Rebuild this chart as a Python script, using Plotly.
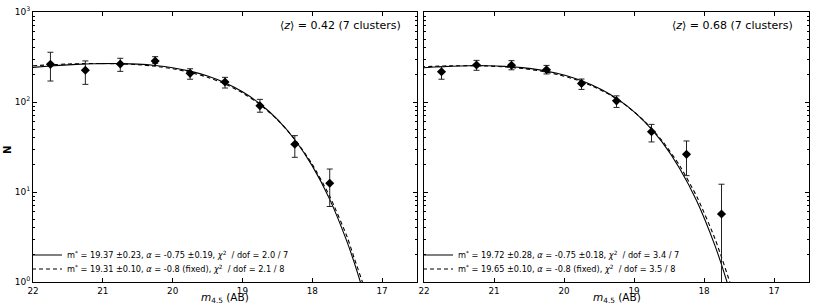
import plotly.graph_objects as go

# ---------------- data ----------------
mag = [21.75, 21.25, 20.75, 20.25, 19.75, 19.25, 18.75, 18.25, 17.75]

n_z042 = [262, 225, 264, 285, 208, 167, 91, 33.9, 12.5]
up_z042 = [357, 286, 306, 319, 234, 188, 107, 42.3, 18.0]
lo_z042 = [171, 157, 219, 269, 179, 143, 77, 24.3, 6.9]

n_z068 = [217, 258, 256, 228, 161, 103, 46.8, 26.2, 5.7]
up_z068 = [247, 290, 288, 255, 180, 117, 56.4, 36.9, 12.2]
lo_z068 = [179, 225, 228, 205, 138, 87, 36.0, 15.2, 0.5]

# fitted Schechter curves
fit_mag_z042 = [22.0, 21.75, 21.5, 21.25, 21.0, 20.75, 20.5, 20.25, 20.0, 19.75, 19.5,
                19.25, 19.0, 18.75, 18.5, 18.25, 18.0, 17.75, 17.5, 17.4, 17.25, 17.0]
fit_free_z042 = [242.8, 251.2, 258.6, 264.1, 267.2, 267.2, 263.2, 254.4, 240.2, 220.1, 194.3,
                 163.5, 129.7, 95.5, 64.0, 38.1, 19.5, 8.28, 2.77, 1.65, 0.69, 0.118]
fit_fixed_z042 = [253.0, 259.2, 264.1, 267.2, 267.9, 265.6, 259.7, 249.4, 234.2, 213.7, 188.3,
                  158.7, 126.4, 93.8, 63.7, 38.6, 20.3, 8.96, 3.16, 1.85, 0.84, 0.156]

fit_mag_free_z068 = [22.10, 21.85, 21.60, 21.35, 21.10, 20.85, 20.60, 20.35, 20.10, 19.85, 19.60,
                     19.35, 19.10, 18.85, 18.60, 18.35, 18.10, 17.85, 17.75, 17.60, 17.35]
fit_free_z068 = [237.8, 244.7, 250.0, 252.9, 252.9, 249.1, 240.8, 227.3, 208.3, 183.9, 154.8,
                 122.8, 90.4, 60.5, 36.0, 18.4, 7.83, 2.62, 1.56, 0.65, 0.11]
fit_mag_fixed_z068 = [22.34, 22.09, 21.84, 21.59, 21.34, 21.09, 20.84, 20.59, 20.34, 20.09, 19.84,
                      19.59, 19.34, 19.09, 18.84, 18.59, 18.34, 18.09, 17.84, 17.59, 17.34]
fit_fixed_z068 = [239.2, 245.1, 249.7, 252.7, 253.3, 251.2, 245.5, 235.8, 221.4, 202.1, 178.1,
                  150.0, 119.6, 88.7, 60.2, 36.5, 19.2, 8.48, 2.98, 0.79, 0.15]

labels_z042 = [
    "m<sup>*</sup> = 19.37 ±0.23, <i>α</i> = -0.75 ±0.19, <i>χ</i><sup>2</sup>  / dof = 2.0 / 7",
    "m<sup>*</sup> = 19.31 ±0.10, <i>α</i> = -0.8 (fixed), <i>χ</i><sup>2</sup>  / dof = 2.1 / 8",
]
labels_z068 = [
    "m<sup>*</sup> = 19.72 ±0.28, <i>α</i> = -0.75 ±0.18, <i>χ</i><sup>2</sup>  / dof = 3.4 / 7",
    "m<sup>*</sup> = 19.65 ±0.10, <i>α</i> = -0.8 (fixed), <i>χ</i><sup>2</sup>  / dof = 3.5 / 8",
]
titles = ["⟨<i>z</i>⟩ = 0.42 (7 clusters)", "⟨<i>z</i>⟩ = 0.68 (7 clusters)"]
x_title = "<i>m</i><sub>4.5</sub> (AB)"
x_ticks = [22, 21, 20, 19, 18, 17]
y_tickvals = [1, 10, 100, 1000]
y_ticktext = ["10<sup>0</sup>", "10<sup>1</sup>", "10<sup>2</sup>", "10<sup>3</sup>"]
y_minor = [2, 3, 4, 5, 6, 7, 8, 9, 20, 30, 40, 50, 60, 70, 80, 90,
           200, 300, 400, 500, 600, 700, 800, 900]

# ---------------- figure ----------------
W, H = 817, 307
FONT = "DejaVu Sans"
fig = go.Figure()

panels = [
    dict(xa="x", ya="y", n=n_z042, up=up_z042, lo=lo_z042,
         fm1=fit_mag_z042, f1=fit_free_z042, fm2=fit_mag_z042, f2=fit_fixed_z042,
         labels=labels_z042, legs=("legend", "legend2")),
    dict(xa="x2", ya="y2", n=n_z068, up=up_z068, lo=lo_z068,
         fm1=fit_mag_free_z068, f1=fit_free_z068, fm2=fit_mag_fixed_z068, f2=fit_fixed_z068,
         labels=labels_z068, legs=("legend3", "legend4")),
]

for p in panels:
    fig.add_trace(go.Scatter(
        x=p["fm1"], y=p["f1"], xaxis=p["xa"], yaxis=p["ya"], mode="lines",
        line=dict(color="black", width=1.1, shape="spline", smoothing=0.6),
        name=p["labels"][0], legend=p["legs"][0], showlegend=True))
    fig.add_trace(go.Scatter(
        x=p["fm2"], y=p["f2"], xaxis=p["xa"], yaxis=p["ya"], mode="lines",
        line=dict(color="black", width=1.1, dash="4px,3px", shape="spline", smoothing=0.6),
        name=p["labels"][1], legend=p["legs"][1], showlegend=True))
    plus = [u - v for u, v in zip(p["up"], p["n"])]
    minus = [v - l for v, l in zip(p["n"], p["lo"])]
    fig.add_trace(go.Scatter(
        x=mag, y=p["n"], xaxis=p["xa"], yaxis=p["ya"], mode="markers",
        marker=dict(symbol="diamond", size=7, color="black"),
        error_y=dict(type="data", symmetric=False, array=plus, arrayminus=minus,
                     color="#222222", thickness=1, width=3),
        showlegend=False))

dom_x1 = [33 / W, 417 / W]
dom_x2 = [424 / W, 809 / W]
dom_y = [25 / H, 295 / H]

xcommon = dict(range=[22, 16.5], tickmode="array", tickvals=x_ticks, ticktext=[str(t) for t in x_ticks],
               ticks="inside", ticklen=4, tickcolor="black", showline=True, linecolor="black",
               linewidth=1, mirror="allticks", showgrid=False, zeroline=False, automargin=False,
               tickfont=dict(family=FONT, size=8.8, color="black"))
ycommon = dict(type="log", range=[0, 3], tickmode="array", tickvals=y_tickvals, ticktext=y_ticktext,
               ticks="inside", ticklen=4, tickcolor="black", showline=True, linecolor="black",
               linewidth=1, mirror="allticks", showgrid=False, zeroline=False, automargin=False,
               minor=dict(tickmode="array", tickvals=y_minor, ticks="inside", ticklen=2,
                          tickcolor="black", showgrid=False),
               tickfont=dict(family=FONT, size=9, color="black"))

fig.update_layout(
    width=W, height=H, margin=dict(l=0, r=0, t=0, b=0, autoexpand=False),
    paper_bgcolor="white", plot_bgcolor="white",
    xaxis=dict(domain=dom_x1, anchor="y", **xcommon),
    xaxis2=dict(domain=dom_x2, anchor="y2", **xcommon),
    yaxis=dict(domain=dom_y, anchor="x", showticklabels=True, **ycommon),
    yaxis2=dict(domain=dom_y, anchor="x2", showticklabels=False, **ycommon),
    font=dict(family=FONT, color="black"),
)

leg_common = dict(bgcolor="rgba(0,0,0,0)", borderwidth=0, font=dict(family=FONT, size=8.2, color="black"),
                  xanchor="left", yanchor="middle", itemwidth=30, tracegroupgap=0)
fig.update_layout(
    legend=dict(x=27 / W, y=1 - 255 / H, **leg_common),
    legend2=dict(x=27 / W, y=1 - 269 / H, **leg_common),
    legend3=dict(x=418 / W, y=1 - 255 / H, **leg_common),
    legend4=dict(x=418 / W, y=1 - 269 / H, **leg_common),
)

for xa, t in zip(["x domain", "x2 domain"], titles):
    fig.add_annotation(x=0.964, y=1 - 25 / H, xref=xa, yref="paper", text=t, showarrow=False,
                       xanchor="right", yanchor="middle", font=dict(family=FONT, size=11, color="black"))
    fig.add_annotation(x=0.5, y=0, xref=xa, yref="paper", text=x_title, showarrow=False,
                       xanchor="center", yanchor="bottom", font=dict(family=FONT, size=10.5, color="black"))

fig.add_annotation(x=7 / W, y=1 - 150 / H, xref="paper", yref="paper", text="<b>N</b>",
                   textangle=-90, showarrow=False, xanchor="center", yanchor="middle",
                   font=dict(family=FONT, size=10, color="black"))

fig.write_html("out.html", config={"displayModeBar": False},
               post_script="document.body.style.margin='0';document.body.style.padding='0';")
